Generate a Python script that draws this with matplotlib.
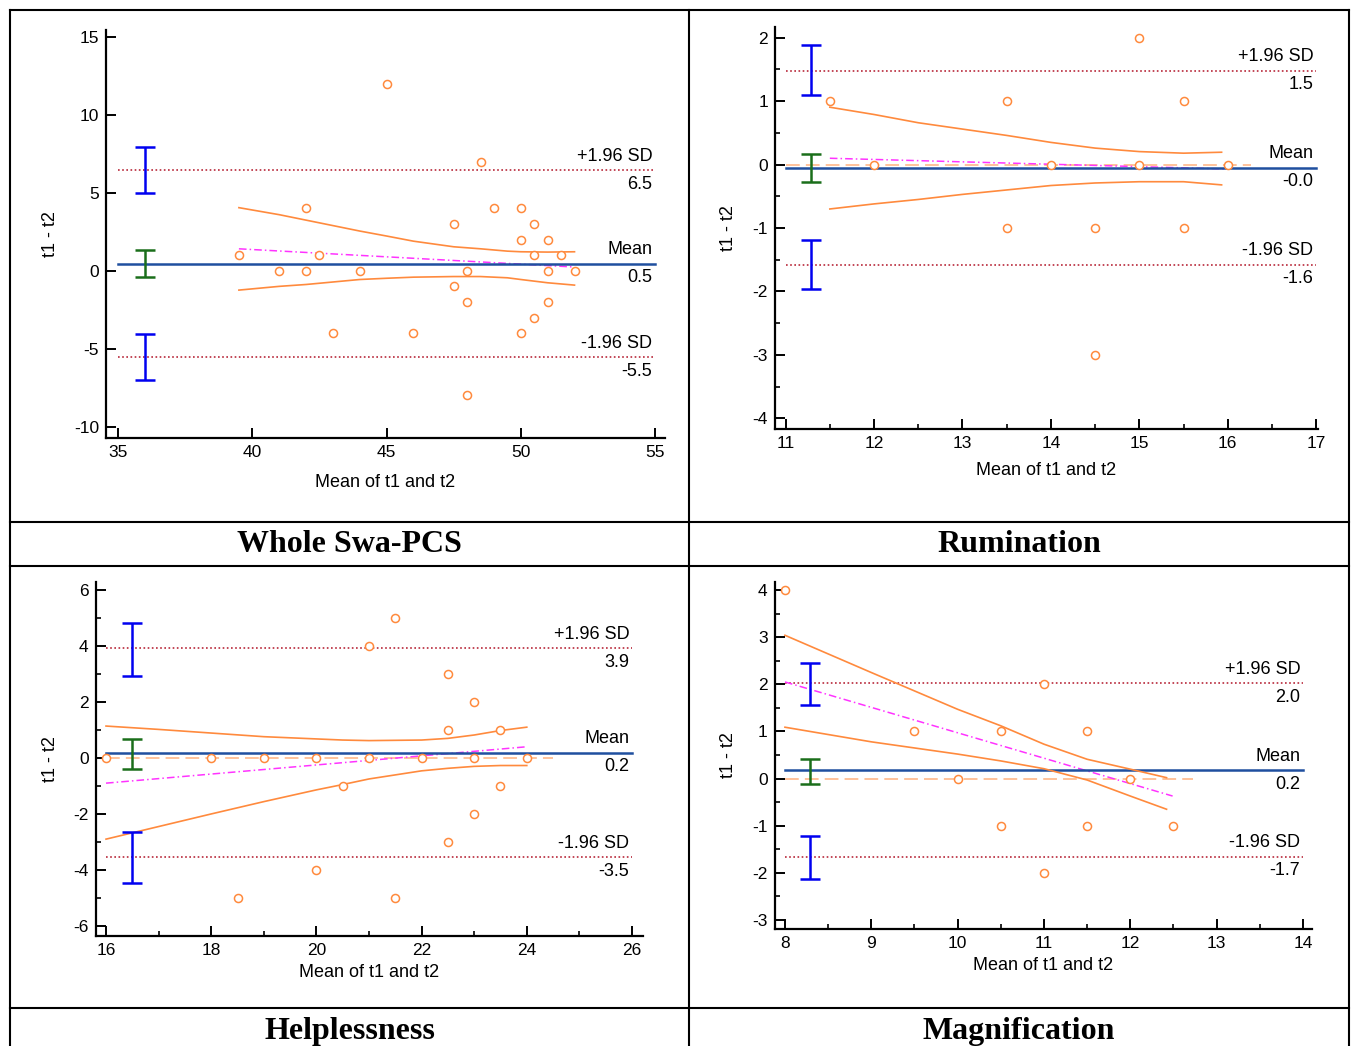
import matplotlib
matplotlib.use("Agg")
import matplotlib.pyplot as plt
from matplotlib.lines import Line2D
from matplotlib.ticker import MultipleLocator

plt.rcParams['font.family'] = ['Liberation Sans', 'DejaVu Sans']
plt.rcParams['axes.unicode_minus'] = False

# ---------------- data ----------------
# Whole Swa-PCS
whole_x = [39.5, 41, 42, 42, 42.5, 43, 44, 45, 46, 47.5, 47.5, 48, 48, 48, 48.5, 49,
           50, 50, 50, 50.5, 50.5, 50.5, 51, 51, 51, 51.5, 52]
whole_d = [1, 0, 4, 0, 1, -4, 0, 12, -4, 3, -1, 0, -2, -8, 7, 4,
           4, 2, -4, 3, 1, -3, 2, 0, -2, 1, 0]
whole_limits = [6.45, 0.44, -5.56]
whole_limit_labels = ["6.5", "0.5", "-5.5"]
whole_limit_ci = [[4.97, 7.95], [-0.43, 1.33], [-7.04, -4.05]]
whole_reg_x = [39.5, 52]
whole_reg_y = [1.41, 0.24]
whole_band_x = [39.5, 41, 42, 44, 45, 46, 47.5, 48.5, 49.5, 50, 51, 52]
whole_band_hi = [4.05, 3.6, 3.25, 2.55, 2.23, 1.9, 1.54, 1.41, 1.26, 1.22, 1.2, 1.22]
whole_band_lo = [-1.24, -1.0, -0.88, -0.56, -0.48, -0.41, -0.37, -0.37, -0.45, -0.56, -0.77, -0.92]

# Rumination
rum_x = [11.5, 12, 13.5, 13.5, 14, 14.5, 14.5, 15, 15, 15.5, 15.5, 16]
rum_d = [1, 0, 1, -1, 0, -1, -3, 2, 0, 1, -1, 0]
rum_limits = [1.48, -0.05, -1.58]
rum_limit_labels = ["1.5", "-0.0", "-1.6"]
rum_limit_ci = [[1.105, 1.88], [-0.27, 0.17], [-1.96, -1.19]]
rum_reg_x = [11.5, 16]
rum_reg_y = [0.10, -0.07]
rum_band_x = [11.5, 12, 12.5, 13, 13.5, 14, 14.5, 15, 15.5, 15.93]
rum_band_hi = [0.905, 0.79, 0.66, 0.56, 0.46, 0.35, 0.26, 0.205, 0.18, 0.195]
rum_band_lo = [-0.70, -0.62, -0.55, -0.47, -0.40, -0.33, -0.29, -0.27, -0.27, -0.32]
rum_zero_x = [11, 16.26]

# Helplessness
help_x = [16, 18, 18.5, 19, 20, 20, 20.5, 21, 21, 21.5, 21.5, 22, 22.5, 22.5, 22.5,
          23, 23, 23, 23.5, 23.5, 24]
help_d = [0, 0, -5, 0, 0, -4, -1, 4, 0, 5, -5, 0, 3, 1, -3,
          2, 0, -2, 1, -1, 0]
help_limits = [3.92, 0.18, -3.55]
help_limit_labels = ["3.9", "0.2", "-3.5"]
help_limit_ci = [[2.94, 4.81], [-0.39, 0.69], [-4.48, -2.65]]
help_reg_x = [16, 24]
help_reg_y = [-0.9, 0.4]
help_band_x = [16, 17, 18, 19, 20, 20.5, 21, 22, 22.5, 23, 23.5, 24]
help_band_hi = [1.14, 1.02, 0.89, 0.76, 0.68, 0.64, 0.62, 0.64, 0.70, 0.82, 0.98, 1.10]
help_band_lo = [-2.9, -2.45, -2.0, -1.56, -1.14, -0.95, -0.75, -0.46, -0.37, -0.30, -0.27, -0.27]
help_zero_x = [16, 24.5]

# Magnification
mag_x = [8, 9.5, 10, 10.5, 10.5, 11, 11, 11.5, 11.5, 12, 12.5]
mag_d = [4, 1, 0, 1, -1, 2, -2, 1, -1, 0, -1]
mag_limits = [2.02, 0.18, -1.66]
mag_limit_labels = ["2.0", "0.2", "-1.7"]
mag_limit_ci = [[1.57, 2.46], [-0.11, 0.42], [-2.14, -1.22]]
mag_reg_x = [8, 12.49]
mag_reg_y = [2.05, -0.37]
mag_band_x = [8, 9, 10, 10.5, 11, 11.5, 12, 12.42]
mag_band_hi = [3.04, 2.25, 1.47, 1.12, 0.73, 0.41, 0.2, 0.02]
mag_band_lo = [1.09, 0.78, 0.52, 0.375, 0.21, -0.03, -0.37, -0.65]
mag_zero_x = [8, 12.73]

titles = ["Whole Swa-PCS", "Rumination", "Helplessness", "Magnification"]

# ---------------- styling ----------------
W, H = 1351, 1046
ORANGE = '#FF8A3D'
MEANC = '#1F4F9F'
REDC = '#B8283A'
MAGC = '#FF33FF'
BLUE = '#0000F0'
GREEN = '#1A6E1A'

fig = plt.figure(figsize=(W / 100, H / 100), dpi=100)


def axes_px(l, r, t, b):
    return fig.add_axes([l / W, 1 - b / H, (r - l) / W, (b - t) / H])


panels = [
    dict(box=(106, 665, 30, 438), xlim=(34.55, 55.37), ylim=(-10.73, 15.45),
         xmaj=5, ymaj=5, xmin=None, ymin=None, xr=(35, 55), ebx=36,
         x=whole_x, d=whole_d, lim=whole_limits, lab=whole_limit_labels, ci=whole_limit_ci,
         rx=whole_reg_x, ry=whole_reg_y, bx=whole_band_x, bh=whole_band_hi, bl=whole_band_lo,
         zx=None, ylx=-0.100, xly=-0.108),
    dict(box=(775, 1318, 27, 429), xlim=(10.88, 17.02), ylim=(-4.17, 2.17),
         xmaj=1, ymaj=1, xmin=0.5, ymin=0.5, xr=(11, 17), ebx=11.29,
         x=rum_x, d=rum_d, lim=rum_limits, lab=rum_limit_labels, ci=rum_limit_ci,
         rx=rum_reg_x, ry=rum_reg_y, bx=rum_band_x, bh=rum_band_hi, bl=rum_band_lo,
         zx=rum_zero_x, ylx=-0.085, xly=-0.102),
    dict(box=(95.5, 642.5, 581.6, 936), xlim=(15.8, 26.2), ylim=(-6.36, 6.3),
         xmaj=2, ymaj=2, xmin=1, ymin=1, xr=(16, 26), ebx=16.5,
         x=help_x, d=help_d, lim=help_limits, lab=help_limit_labels, ci=help_limit_ci,
         rx=help_reg_x, ry=help_reg_y, bx=help_band_x, bh=help_band_hi, bl=help_band_lo,
         zx=help_zero_x, ylx=-0.083, xly=-0.104),
    dict(box=(774.6, 1311.6, 582, 929), xlim=(7.88, 14.1), ylim=(-3.19, 4.17),
         xmaj=1, ymaj=1, xmin=0.5, ymin=0.5, xr=(8, 14), ebx=8.29,
         x=mag_x, d=mag_d, lim=mag_limits, lab=mag_limit_labels, ci=mag_limit_ci,
         rx=mag_reg_x, ry=mag_reg_y, bx=mag_band_x, bh=mag_band_hi, bl=mag_band_lo,
         zx=mag_zero_x, ylx=-0.085, xly=-0.104),
]

for p in panels:
    ax = axes_px(*p['box'])
    ax.set_xlim(*p['xlim'])
    ax.set_ylim(*p['ylim'])
    for s in ('top', 'right'):
        ax.spines[s].set_visible(False)
    for s in ('left', 'bottom'):
        ax.spines[s].set_linewidth(1.6)
    ax.xaxis.set_major_locator(MultipleLocator(p['xmaj']))
    ax.yaxis.set_major_locator(MultipleLocator(p['ymaj']))
    if p['xmin']:
        ax.xaxis.set_minor_locator(MultipleLocator(p['xmin']))
        ax.yaxis.set_minor_locator(MultipleLocator(p['ymin']))
    ax.tick_params(which='major', direction='in', length=7.5, width=1.4, labelsize=12.5, pad=5)
    ax.tick_params(which='minor', direction='in', length=3.5, width=1.2)

    x0, x1 = p['xr']
    # zero (equality) line
    if p['zx'] is not None:
        ax.plot(p['zx'], [0, 0], color='#FFB27F', lw=1.1, dashes=(9, 4), zorder=1)
    # limits of agreement
    up, mn, lo = p['lim']
    ax.plot([x0, x1], [up, up], color=REDC, lw=1.2, ls=(0, (1, 1.5)), zorder=2)
    ax.plot([x0, x1], [lo, lo], color=REDC, lw=1.2, ls=(0, (1, 1.5)), zorder=2)
    ax.plot([x0, x1], [mn, mn], color=MEANC, lw=1.8, zorder=3)
    # regression line and its confidence band
    ax.plot(p['rx'], p['ry'], color=MAGC, lw=1.1, ls=(0, (5, 2, 1, 2)), zorder=2)
    ax.plot(p['bx'], p['bh'], color=ORANGE, lw=1.2, zorder=3)
    ax.plot(p['bx'], p['bl'], color=ORANGE, lw=1.2, zorder=3)
    # points
    ax.plot(p['x'], p['d'], 'o', mfc='white', mec=ORANGE, mew=1.1, ms=5.8,
            ls='none', zorder=4, clip_on=False)
    # CI error bars of limits
    for (a, b), col in zip(p['ci'], [BLUE, GREEN, BLUE]):
        ax.errorbar([p['ebx']], [(a + b) / 2], yerr=[[(b - a) / 2], [(b - a) / 2]],
                    fmt='none', ecolor=col, elinewidth=1.8, capsize=7.5, capthick=1.8,
                    zorder=5)
    # labels on the right
    names = ["+1.96 SD", "Mean", "-1.96 SD"]
    for val, nm, txt in zip(p['lim'], names, p['lab']):
        ax.annotate(nm, (x1, val), xytext=(-2, 4), textcoords='offset points',
                    ha='right', va='bottom', fontsize=13)
        ax.annotate(txt, (x1, val), xytext=(-2, -4), textcoords='offset points',
                    ha='right', va='top', fontsize=13)
    ax.set_xlabel("Mean of t1 and t2", fontsize=13)
    ax.set_ylabel("t1 - t2", fontsize=13)
    ax.xaxis.set_label_coords(0.5, p['xly'])
    ax.xaxis.label.set_va('center')
    ax.yaxis.set_label_coords(p['ylx'], 0.5)
    ax.yaxis.label.set_va('center')

# ---------------- table frame ----------------
def hline(y, x0=10, x1=1349):
    fig.add_artist(Line2D([x0 / W, x1 / W], [1 - y / H, 1 - y / H], color='black', lw=1.5))


def vline(x, y0=10, y1=1046):
    fig.add_artist(Line2D([x / W, x / W], [1 - y0 / H, 1 - y1 / H], color='black', lw=1.5))


for y in (10, 522, 566, 1008):
    hline(y)
for x in (10, 689, 1349):
    vline(x)

title_pos = [(349.5, 544), (1019, 544), (349.5, 1031), (1019, 1031)]
for t, (tx, ty) in zip(titles, title_pos):
    fig.text(tx / W, 1 - ty / H, t, ha='center', va='center', fontsize=23,
             fontweight='bold', family=['Liberation Serif', 'DejaVu Serif'])

fig.savefig('out.png', dpi=100)
